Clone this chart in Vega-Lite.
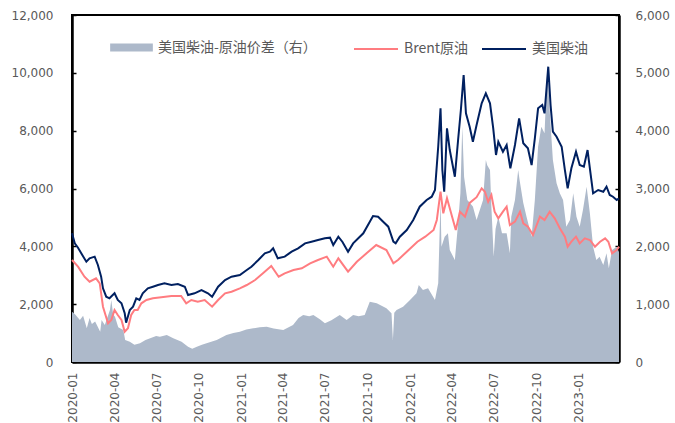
{
"$schema": "https://vega.github.io/schema/vega-lite/v6.json",
"width": 547, "height": 347,
"autosize": {"type": "none"},
"padding": {"left": 72, "top": 15, "right": 56, "bottom": 61},
"background": "white",
"config": {
 "view": {"stroke": "#000000", "strokeWidth": 2},
 "axis": {"zindex": 1, "domainColor": "#000000", "domainWidth": 2.5, "tickColor": "#000000", "tickWidth": 1.5, "tickSize": -4, "labelColor": "#595959", "labelFont": "DejaVu Sans", "labelFontSize": 12, "grid": false, "title": null},
 "legend": {"labelColor": "#595959", "labelFont": "Noto Sans CJK SC", "labelFontSize": 14, "labelLimit": 400, "padding": 0, "title": null}
},
"data": {"values": [
{"d":"2020-01-01","s":"D","v":4450},{"d":"2020-01-07","s":"D","v":4105},{"d":"2020-01-14","s":"D","v":3950},{"d":"2020-01-21","s":"D","v":3759},{"d":"2020-02-01","s":"D","v":3468},{"d":"2020-02-08","s":"D","v":3586},{"d":"2020-02-19","s":"D","v":3643},{"d":"2020-02-26","s":"D","v":3354},{"d":"2020-03-04","s":"D","v":2950},{"d":"2020-03-08","s":"D","v":2548},{"d":"2020-03-15","s":"D","v":2258},{"d":"2020-03-22","s":"D","v":2203},{"d":"2020-04-02","s":"D","v":2376},{"d":"2020-04-09","s":"D","v":2144},{"d":"2020-04-17","s":"D","v":2030},{"d":"2020-04-24","s":"D","v":1684},{"d":"2020-04-27","s":"D","v":1360},{"d":"2020-05-05","s":"D","v":1798},{"d":"2020-05-12","s":"D","v":1913},{"d":"2020-05-19","s":"D","v":2203},{"d":"2020-05-26","s":"D","v":2144},{"d":"2020-06-02","s":"D","v":2376},{"d":"2020-06-13","s":"D","v":2548},{"d":"2020-06-24","s":"D","v":2604},{"d":"2020-07-05","s":"D","v":2663},{"d":"2020-07-19","s":"D","v":2721},{"d":"2020-08-03","s":"D","v":2663},{"d":"2020-08-17","s":"D","v":2697},{"d":"2020-09-01","s":"D","v":2604},{"d":"2020-09-08","s":"D","v":2317},{"d":"2020-09-22","s":"D","v":2376},{"d":"2020-10-07","s":"D","v":2490},{"d":"2020-10-21","s":"D","v":2376},{"d":"2020-10-30","s":"D","v":2258},{"d":"2020-11-12","s":"D","v":2604},{"d":"2020-11-27","s":"D","v":2836},{"d":"2020-12-11","s":"D","v":2950},{"d":"2020-12-29","s":"D","v":3008},{"d":"2021-01-13","s":"D","v":3181},{"d":"2021-01-23","s":"D","v":3296},{"d":"2021-02-07","s":"D","v":3527},{"d":"2021-02-21","s":"D","v":3759},{"d":"2021-03-04","s":"D","v":3815},{"d":"2021-03-11","s":"D","v":3932},{"d":"2021-03-21","s":"D","v":3586},{"d":"2021-04-05","s":"D","v":3643},{"d":"2021-04-20","s":"D","v":3815},{"d":"2021-05-04","s":"D","v":3932},{"d":"2021-05-19","s":"D","v":4103},{"d":"2021-06-02","s":"D","v":4161},{"d":"2021-06-16","s":"D","v":4219},{"d":"2021-07-01","s":"D","v":4276},{"d":"2021-07-12","s":"D","v":4300},{"d":"2021-07-19","s":"D","v":4046},{"d":"2021-07-30","s":"D","v":4334},{"d":"2021-08-08","s":"D","v":4150},{"d":"2021-08-20","s":"D","v":3815},{"d":"2021-08-31","s":"D","v":4103},{"d":"2021-09-22","s":"D","v":4450},{"d":"2021-10-13","s":"D","v":5049},{"d":"2021-10-24","s":"D","v":5026},{"d":"2021-11-04","s":"D","v":4853},{"d":"2021-11-15","s":"D","v":4680},{"d":"2021-11-26","s":"D","v":4161},{"d":"2021-12-01","s":"D","v":4103},{"d":"2021-12-10","s":"D","v":4334},{"d":"2021-12-25","s":"D","v":4565},{"d":"2022-01-08","s":"D","v":4911},{"d":"2022-01-22","s":"D","v":5370},{"d":"2022-02-06","s":"D","v":5602},{"d":"2022-02-17","s":"D","v":5716},{"d":"2022-02-24","s":"D","v":5948},{"d":"2022-03-03","s":"D","v":7445},{"d":"2022-03-08","s":"D","v":8773},{"d":"2022-03-12","s":"D","v":6639},{"d":"2022-03-16","s":"D","v":5889},{"d":"2022-03-22","s":"D","v":8081},{"d":"2022-03-28","s":"D","v":7331},{"d":"2022-04-08","s":"D","v":6408},{"d":"2022-04-15","s":"D","v":7677},{"d":"2022-04-21","s":"D","v":8714},{"d":"2022-04-27","s":"D","v":9924},{"d":"2022-05-02","s":"D","v":8600},{"d":"2022-05-10","s":"D","v":8137},{"d":"2022-05-17","s":"D","v":7618},{"d":"2022-05-25","s":"D","v":8195},{"d":"2022-06-05","s":"D","v":8946},{"d":"2022-06-14","s":"D","v":9292},{"d":"2022-06-23","s":"D","v":8946},{"d":"2022-06-30","s":"D","v":8081},{"d":"2022-07-06","s":"D","v":7158},{"d":"2022-07-11","s":"D","v":7618},{"d":"2022-07-21","s":"D","v":7272},{"d":"2022-07-29","s":"D","v":7504},{"d":"2022-08-06","s":"D","v":6698},{"d":"2022-08-16","s":"D","v":7504},{"d":"2022-08-25","s":"D","v":8427},{"d":"2022-09-03","s":"D","v":7563},{"d":"2022-09-13","s":"D","v":7390},{"d":"2022-09-21","s":"D","v":6812},{"d":"2022-09-28","s":"D","v":7736},{"d":"2022-10-05","s":"D","v":8773},{"d":"2022-10-14","s":"D","v":8887},{"d":"2022-10-19","s":"D","v":8600},{"d":"2022-10-27","s":"D","v":10212},{"d":"2022-11-01","s":"D","v":8887},{"d":"2022-11-06","s":"D","v":7964},{"d":"2022-11-14","s":"D","v":7791},{"d":"2022-11-25","s":"D","v":7445},{"d":"2022-12-02","s":"D","v":6639},{"d":"2022-12-08","s":"D","v":6006},{"d":"2022-12-16","s":"D","v":6698},{"d":"2022-12-26","s":"D","v":7272},{"d":"2023-01-03","s":"D","v":6812},{"d":"2023-01-12","s":"D","v":6754},{"d":"2023-01-20","s":"D","v":7331},{"d":"2023-01-25","s":"D","v":6698},{"d":"2023-02-01","s":"D","v":5834},{"d":"2023-02-12","s":"D","v":5948},{"d":"2023-02-23","s":"D","v":5889},{"d":"2023-03-02","s":"D","v":6062},{"d":"2023-03-09","s":"D","v":5775},{"d":"2023-03-16","s":"D","v":5716},{"d":"2023-03-24","s":"D","v":5602},{"d":"2023-03-29","s":"D","v":5660},
{"d":"2020-01-01","s":"B","v":3527},{"d":"2020-01-14","s":"B","v":3296},{"d":"2020-01-28","s":"B","v":2950},{"d":"2020-02-08","s":"B","v":2777},{"d":"2020-02-22","s":"B","v":2894},{"d":"2020-03-01","s":"B","v":2721},{"d":"2020-03-04","s":"B","v":2376},{"d":"2020-03-08","s":"B","v":1913},{"d":"2020-03-19","s":"B","v":1338},{"d":"2020-03-26","s":"B","v":1452},{"d":"2020-04-02","s":"B","v":1798},{"d":"2020-04-09","s":"B","v":1625},{"d":"2020-04-17","s":"B","v":1452},{"d":"2020-04-24","s":"B","v":1048},{"d":"2020-05-01","s":"B","v":1165},{"d":"2020-05-08","s":"B","v":1625},{"d":"2020-05-15","s":"B","v":1798},{"d":"2020-05-22","s":"B","v":1798},{"d":"2020-05-30","s":"B","v":2030},{"d":"2020-06-10","s":"B","v":2144},{"d":"2020-06-24","s":"B","v":2203},{"d":"2020-07-12","s":"B","v":2237},{"d":"2020-08-03","s":"B","v":2282},{"d":"2020-08-24","s":"B","v":2282},{"d":"2020-09-04","s":"B","v":2030},{"d":"2020-09-15","s":"B","v":2144},{"d":"2020-09-29","s":"B","v":2087},{"d":"2020-10-14","s":"B","v":2144},{"d":"2020-10-30","s":"B","v":1913},{"d":"2020-11-12","s":"B","v":2144},{"d":"2020-11-27","s":"B","v":2376},{"d":"2020-12-11","s":"B","v":2432},{"d":"2020-12-29","s":"B","v":2548},{"d":"2021-01-13","s":"B","v":2663},{"d":"2021-01-31","s":"B","v":2836},{"d":"2021-02-17","s":"B","v":3067},{"d":"2021-03-07","s":"B","v":3320},{"d":"2021-03-23","s":"B","v":2950},{"d":"2021-04-05","s":"B","v":3067},{"d":"2021-04-24","s":"B","v":3181},{"d":"2021-05-12","s":"B","v":3240},{"d":"2021-05-30","s":"B","v":3413},{"d":"2021-06-16","s":"B","v":3527},{"d":"2021-07-05","s":"B","v":3643},{"d":"2021-07-19","s":"B","v":3296},{"d":"2021-07-30","s":"B","v":3586},{"d":"2021-08-20","s":"B","v":3123},{"d":"2021-09-08","s":"B","v":3468},{"d":"2021-09-29","s":"B","v":3759},{"d":"2021-10-20","s":"B","v":4046},{"d":"2021-11-11","s":"B","v":3873},{"d":"2021-11-26","s":"B","v":3413},{"d":"2021-12-06","s":"B","v":3527},{"d":"2021-12-25","s":"B","v":3815},{"d":"2022-01-17","s":"B","v":4161},{"d":"2022-02-03","s":"B","v":4334},{"d":"2022-02-21","s":"B","v":4565},{"d":"2022-02-28","s":"B","v":4911},{"d":"2022-03-08","s":"B","v":5889},{"d":"2022-03-14","s":"B","v":5142},{"d":"2022-03-22","s":"B","v":5661},{"d":"2022-04-01","s":"B","v":5083},{"d":"2022-04-10","s":"B","v":4565},{"d":"2022-04-19","s":"B","v":5198},{"d":"2022-04-30","s":"B","v":5026},{"d":"2022-05-10","s":"B","v":5500},{"d":"2022-05-25","s":"B","v":5700},{"d":"2022-06-05","s":"B","v":6006},{"d":"2022-06-12","s":"B","v":5889},{"d":"2022-06-19","s":"B","v":5543},{"d":"2022-06-26","s":"B","v":5775},{"d":"2022-07-03","s":"B","v":5198},{"d":"2022-07-11","s":"B","v":4969},{"d":"2022-07-21","s":"B","v":5198},{"d":"2022-07-29","s":"B","v":5370},{"d":"2022-08-05","s":"B","v":4738},{"d":"2022-08-16","s":"B","v":4853},{"d":"2022-08-27","s":"B","v":5198},{"d":"2022-09-03","s":"B","v":4796},{"d":"2022-09-13","s":"B","v":4680},{"d":"2022-09-24","s":"B","v":4392},{"d":"2022-10-02","s":"B","v":4738},{"d":"2022-10-09","s":"B","v":5026},{"d":"2022-10-19","s":"B","v":4911},{"d":"2022-10-30","s":"B","v":5198},{"d":"2022-11-10","s":"B","v":4969},{"d":"2022-11-21","s":"B","v":4623},{"d":"2022-12-02","s":"B","v":4334},{"d":"2022-12-08","s":"B","v":3988},{"d":"2022-12-16","s":"B","v":4161},{"d":"2022-12-26","s":"B","v":4334},{"d":"2023-01-03","s":"B","v":4103},{"d":"2023-01-14","s":"B","v":4276},{"d":"2023-01-25","s":"B","v":4219},{"d":"2023-02-05","s":"B","v":3988},{"d":"2023-02-16","s":"B","v":4161},{"d":"2023-02-27","s":"B","v":4276},{"d":"2023-03-06","s":"B","v":4161},{"d":"2023-03-14","s":"B","v":3759},{"d":"2023-03-24","s":"B","v":3873},{"d":"2023-03-29","s":"B","v":3988},
{"d":"2020-01-01","s":"A","v":870},{"d":"2020-01-08","s":"A","v":820},{"d":"2020-01-18","s":"A","v":726},{"d":"2020-01-25","s":"A","v":800},{"d":"2020-02-02","s":"A","v":582},{"d":"2020-02-08","s":"A","v":760},{"d":"2020-02-13","s":"A","v":657},{"d":"2020-02-20","s":"A","v":700},{"d":"2020-03-02","s":"A","v":524},{"d":"2020-03-05","s":"A","v":726},{"d":"2020-03-12","s":"A","v":640},{"d":"2020-03-23","s":"A","v":899},{"d":"2020-03-26","s":"A","v":1072},{"d":"2020-03-30","s":"A","v":820},{"d":"2020-04-03","s":"A","v":783},{"d":"2020-04-10","s":"A","v":600},{"d":"2020-04-21","s":"A","v":553},{"d":"2020-04-25","s":"A","v":380},{"d":"2020-05-05","s":"A","v":351},{"d":"2020-05-15","s":"A","v":300},{"d":"2020-05-27","s":"A","v":323},{"d":"2020-06-08","s":"A","v":380},{"d":"2020-06-18","s":"A","v":409},{"d":"2020-07-01","s":"A","v":450},{"d":"2020-07-09","s":"A","v":438},{"d":"2020-07-24","s":"A","v":467},{"d":"2020-08-07","s":"A","v":409},{"d":"2020-08-25","s":"A","v":351},{"d":"2020-09-08","s":"A","v":265},{"d":"2020-09-17","s":"A","v":230},{"d":"2020-09-27","s":"A","v":265},{"d":"2020-10-08","s":"A","v":300},{"d":"2020-10-18","s":"A","v":323},{"d":"2020-11-09","s":"A","v":380},{"d":"2020-11-30","s":"A","v":467},{"d":"2020-12-15","s":"A","v":500},{"d":"2020-12-29","s":"A","v":524},{"d":"2021-01-12","s":"A","v":560},{"d":"2021-01-27","s":"A","v":582},{"d":"2021-02-10","s":"A","v":600},{"d":"2021-02-25","s":"A","v":611},{"d":"2021-03-12","s":"A","v":580},{"d":"2021-04-02","s":"A","v":553},{"d":"2021-04-23","s":"A","v":640},{"d":"2021-05-05","s":"A","v":760},{"d":"2021-05-15","s":"A","v":813},{"d":"2021-05-28","s":"A","v":790},{"d":"2021-06-06","s":"A","v":813},{"d":"2021-06-20","s":"A","v":740},{"d":"2021-07-01","s":"A","v":669},{"d":"2021-07-15","s":"A","v":720},{"d":"2021-07-27","s":"A","v":783},{"d":"2021-08-02","s":"A","v":813},{"d":"2021-08-17","s":"A","v":726},{"d":"2021-08-31","s":"A","v":813},{"d":"2021-09-12","s":"A","v":790},{"d":"2021-09-25","s":"A","v":813},{"d":"2021-10-06","s":"A","v":1043},{"d":"2021-10-21","s":"A","v":1015},{"d":"2021-11-11","s":"A","v":928},{"d":"2021-11-22","s":"A","v":842},{"d":"2021-11-25","s":"A","v":380},{"d":"2021-11-28","s":"A","v":850},{"d":"2021-12-03","s":"A","v":899},{"d":"2021-12-17","s":"A","v":957},{"d":"2022-01-01","s":"A","v":1072},{"d":"2022-01-15","s":"A","v":1188},{"d":"2022-01-20","s":"A","v":1331},{"d":"2022-01-29","s":"A","v":1245},{"d":"2022-02-09","s":"A","v":1274},{"d":"2022-02-24","s":"A","v":1072},{"d":"2022-03-03","s":"A","v":1361},{"d":"2022-03-05","s":"A","v":1936},{"d":"2022-03-08","s":"A","v":2801},{"d":"2022-03-10","s":"A","v":1994},{"d":"2022-03-17","s":"A","v":2167},{"d":"2022-03-24","s":"A","v":2225},{"d":"2022-03-28","s":"A","v":1936},{"d":"2022-04-08","s":"A","v":1764},{"d":"2022-04-15","s":"A","v":2400},{"d":"2022-04-20","s":"A","v":2917},{"d":"2022-04-24","s":"A","v":4068},{"d":"2022-04-28","s":"A","v":3200},{"d":"2022-05-05","s":"A","v":2801},{"d":"2022-05-17","s":"A","v":2690},{"d":"2022-05-25","s":"A","v":2455},{"d":"2022-06-08","s":"A","v":2801},{"d":"2022-06-14","s":"A","v":3493},{"d":"2022-06-17","s":"A","v":3400},{"d":"2022-06-23","s":"A","v":3320},{"d":"2022-06-26","s":"A","v":2686},{"d":"2022-07-01","s":"A","v":1821},{"d":"2022-07-05","s":"A","v":2300},{"d":"2022-07-11","s":"A","v":2512},{"d":"2022-07-19","s":"A","v":2225},{"d":"2022-07-29","s":"A","v":2225},{"d":"2022-08-05","s":"A","v":1879},{"d":"2022-08-08","s":"A","v":2512},{"d":"2022-08-16","s":"A","v":2801},{"d":"2022-08-23","s":"A","v":3320},{"d":"2022-08-26","s":"A","v":3147},{"d":"2022-09-03","s":"A","v":2750},{"d":"2022-09-10","s":"A","v":2512},{"d":"2022-09-21","s":"A","v":2167},{"d":"2022-09-28","s":"A","v":2801},{"d":"2022-10-05","s":"A","v":3723},{"d":"2022-10-12","s":"A","v":4068},{"d":"2022-10-19","s":"A","v":3954},{"d":"2022-10-25","s":"A","v":5106},{"d":"2022-10-30","s":"A","v":4357},{"d":"2022-11-06","s":"A","v":3493},{"d":"2022-11-14","s":"A","v":3090},{"d":"2022-11-21","s":"A","v":2917},{"d":"2022-11-28","s":"A","v":2801},{"d":"2022-12-05","s":"A","v":2340},{"d":"2022-12-13","s":"A","v":2455},{"d":"2022-12-20","s":"A","v":2917},{"d":"2022-12-27","s":"A","v":2512},{"d":"2023-01-03","s":"A","v":2340},{"d":"2023-01-10","s":"A","v":2628},{"d":"2023-01-18","s":"A","v":3032},{"d":"2023-01-25","s":"A","v":2570},{"d":"2023-02-01","s":"A","v":1994},{"d":"2023-02-08","s":"A","v":1764},{"d":"2023-02-15","s":"A","v":1821},{"d":"2023-02-23","s":"A","v":1677},{"d":"2023-03-02","s":"A","v":1879},{"d":"2023-03-07","s":"A","v":1620},{"d":"2023-03-14","s":"A","v":1936},{"d":"2023-03-24","s":"A","v":1994},{"d":"2023-03-29","s":"A","v":1900}
]},
"encoding": {
 "x": {"field": "d", "type": "temporal",
  "scale": {"type": "utc", "domain": [{"year": 2020, "month": 1, "date": 1, "utc": true}, {"year": 2023, "month": 3, "date": 29, "utc": true}]},
  "axis": {"labelExpr": "utcFormat(datum.value, '%Y-%m')", "labelAngle": -90, "labelPadding": 14,
   "values": [{"year":2020,"month":1,"date":1,"utc":true},{"year":2020,"month":4,"date":1,"utc":true},{"year":2020,"month":7,"date":1,"utc":true},{"year":2020,"month":10,"date":1,"utc":true},{"year":2021,"month":1,"date":1,"utc":true},{"year":2021,"month":4,"date":1,"utc":true},{"year":2021,"month":7,"date":1,"utc":true},{"year":2021,"month":10,"date":1,"utc":true},{"year":2022,"month":1,"date":1,"utc":true},{"year":2022,"month":4,"date":1,"utc":true},{"year":2022,"month":7,"date":1,"utc":true},{"year":2022,"month":10,"date":1,"utc":true},{"year":2023,"month":1,"date":1,"utc":true}]}}
},
"layer": [
 {"transform": [{"filter": "datum.s == 'A'"}],
  "mark": {"type": "area"},
  "encoding": {
   "y": {"field": "v", "type": "quantitative", "scale": {"domain": [0, 6000]}, "axis": {"orient": "right", "values": [0,1000,2000,3000,4000,5000,6000], "labelExpr": "format(datum.value, ',.0f')", "labelPadding": 20}},
   "fill": {"field": "s", "type": "nominal", "scale": {"domain": ["A"], "range": ["#ADB9CA"]},
    "legend": {"orient": "none", "legendX": 38, "legendY": 11, "direction": "horizontal", "symbolType": "M-1,-0.19H1V0.19H-1Z", "symbolSize": 1823, "symbolStrokeWidth": 0, "labelOffset": 5, "labelExpr": "'美国柴油-原油价差（右）'"}}
  }},
 {"transform": [{"filter": "datum.s != 'A'"}],
  "mark": {"type": "line", "strokeWidth": 2},
  "encoding": {
   "y": {"field": "v", "type": "quantitative", "scale": {"domain": [0, 12000]}, "axis": {"orient": "left", "values": [0,2000,4000,6000,8000,10000,12000], "labelExpr": "format(datum.value, ',.0f')", "labelPadding": 23}},
   "stroke": {"field": "s", "type": "nominal", "scale": {"domain": ["B", "D"], "range": ["#FF7C80", "#002060"]},
    "legend": {"orient": "none", "legendX": 281, "legendY": 11, "direction": "horizontal", "symbolType": "stroke", "symbolSize": 1936, "symbolStrokeWidth": 2, "labelOffset": 5, "columnPadding": 9, "labelExpr": "datum.value == 'B' ? 'Brent原油' : '美国柴油'"}}
  }}
],
"resolve": {"scale": {"y": "independent", "fill": "independent", "stroke": "independent"}}
}
